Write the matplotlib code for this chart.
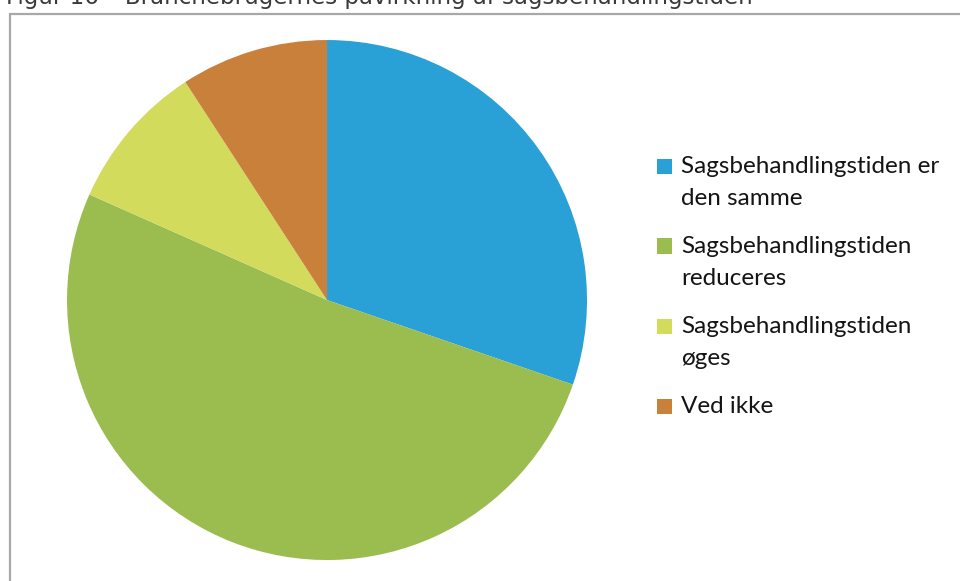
import matplotlib
matplotlib.use("Agg")
import matplotlib.pyplot as plt
from matplotlib.patches import Rectangle

# answers per category
labels = [
    "Sagsbehandlingstiden er\nden samme",
    "Sagsbehandlingstiden\nreduceres",
    "Sagsbehandlingstiden\nøges",
    "Ved ikke",
]
counts = [33, 56, 10, 10]
colors = ["#29a0d6", "#9bbd4f", "#d2db5b", "#c8803a"]

title = "Figur 16 \u2013 Branchebrugernes påvirkning af sagsbehandlingstiden"

W, H = 960, 581


def fx(px):
    return px / W


def fy(py):
    ## pixel rows counted from the top
    return 1 - py / H


fig = plt.figure(figsize=(W / 100, H / 100), dpi=100)
fig.patch.set_facecolor("white")

## grey frame round the chart area
frame = Rectangle((fx(10), -0.05), 1.0, fy(14) + 0.05,
                  transform=fig.transFigure, fill=False,
                  edgecolor="#a8a8a8", linewidth=1.6)
fig.patches.append(frame)

## caption above the frame
fig.text(fx(6), fy(4), title, fontsize=16.5, color="#3a3a3a",
         family="DejaVu Sans", va="baseline", ha="left")

## pie, clockwise from twelve o'clock
ax = fig.add_axes([0.0698, 0.0361, 0.5417, 0.895])
wedges, _ = ax.pie(counts, colors=colors, startangle=90, counterclock=False,
                   radius=1.0, wedgeprops=dict(linewidth=0))
ax.set_xlim(-1, 1)
ax.set_ylim(-1, 1)
ax.set_aspect("equal")

## legend: square next to the first line of each label
for i, (lab, w) in enumerate(zip(labels, wedges)):
    y0 = 166 + 80 * i
    sq = Rectangle((fx(657), fy(y0 + 7.5)), fx(15), 15 / H,
                   transform=fig.transFigure, facecolor=w.get_facecolor(),
                   edgecolor="none")
    fig.patches.append(sq)
    for j, line in enumerate(lab.split("\n")):
        fig.text(fx(681), fy(y0 + 7 + 32 * j), line, fontsize=17.5,
                 color="#141414", family=["Lato", "DejaVu Sans"],
                 va="baseline", ha="left")

fig.savefig("out.png", dpi=100)
